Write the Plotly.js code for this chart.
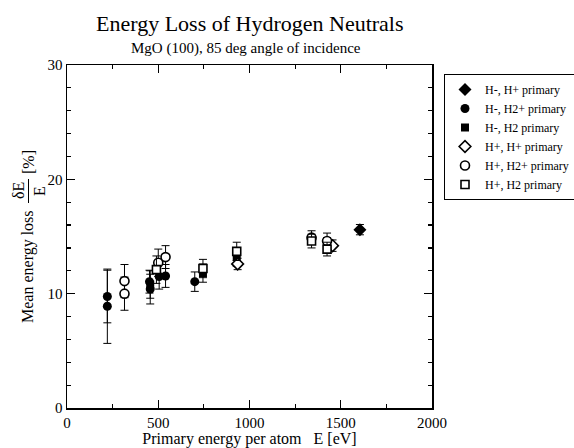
<!DOCTYPE html>
<html>
<head>
<meta charset="utf-8">
<script src="https://cdn.plot.ly/plotly-3.0.1.min.js"></script>
<style>html,body{margin:0;padding:0;background:#fff;}#chart{width:574px;height:448px;}</style>
</head>
<body>
<div id="chart"></div>
<script>
// Series names
const seriesNames = ["H-, H+ primary", "H-, H2+ primary", "H-, H2 primary", "H+, H+ primary", "H+, H2+ primary", "H+, H2 primary"];

// H-, H+ primary (filled diamond)
const hmHpEnergy = [1605];
const hmHpLoss = [15.6];
const hmHpErr = [0.45];

// H-, H2+ primary (filled circle)
const hmH2pEnergy = [221, 221, 452, 456, 505, 540, 700];
const hmH2pLoss = [9.75, 8.9, 11.05, 10.4, 11.5, 11.55, 11.05];
const hmH2pErr = [2.3, 3.25, 1.0, 1.3, 1.1, 1.0, 0.85];

// H-, H2 primary (filled square)
const hmH2Energy = [456, 745, 930, 1425];
const hmH2Loss = [10.8, 11.8, 13.2, 14.3];
const hmH2Err = [1.2, 0.8, 0.8, 0.6];

// H+, H+ primary (open diamond)
const hpHpEnergy = [935, 1455];
const hpHpLoss = [12.6, 14.2];
const hpHpErr = [0.5, 0.5];

// H+, H2+ primary (open circle)
const hpH2pEnergy = [315, 315, 500, 540, 1340, 1425];
const hpH2pLoss = [11.1, 10.0, 12.7, 13.2, 14.9, 14.6];
const hpH2pErr = [1.45, 1.45, 1.2, 1.0, 0.6, 0.7];

// H+, H2 primary (open square)
const hpH2Energy = [490, 745, 930, 1340, 1425];
const hpH2Loss = [12.1, 12.2, 13.7, 14.6, 13.9];
const hpH2Err = [1.2, 0.8, 0.8, 0.6, 0.6];

// Axis ticks
const xTicks = [0, 500, 1000, 1500, 2000];
const yTicks = [0, 10, 20, 30];

const FONT = "Liberation Serif, Times New Roman, serif";

function tr(name, x, y, e, symbol, filled, size) {
  return {
    type: "scatter", mode: "markers", name: name, x: x, y: y,
    error_y: {type: "data", array: e, visible: true, color: "#000", thickness: 1, width: 4},
    marker: {symbol: symbol, size: size, color: filled ? "#000" : "#fff",
             line: {color: "#000", width: filled ? 0 : 1.6}},
    hoverinfo: "x+y"
  };
}

const data = [
  tr(seriesNames[0], hmHpEnergy, hmHpLoss, hmHpErr, "diamond", true, 10),
  tr(seriesNames[1], hmH2pEnergy, hmH2pLoss, hmH2pErr, "circle", true, 9),
  tr(seriesNames[2], hmH2Energy, hmH2Loss, hmH2Err, "square", true, 8),
  tr(seriesNames[3], hpHpEnergy, hpHpLoss, hpHpErr, "diamond", false, 9),
  tr(seriesNames[4], hpH2pEnergy, hpH2pLoss, hpH2pErr, "circle", false, 9),
  tr(seriesNames[5], hpH2Energy, hpH2Loss, hpH2Err, "square", false, 8)
];

// plot area geometry helpers (pixel -> paper)
const L = 67, R = 142, T = 65, B = 40, W = 574, H = 448;
const pw = W - L - R, ph = H - T - B;
const px = v => (v - L) / pw;
const py = v => (H - B - v) / ph;

const layout = {
  width: W, height: H,
  margin: {l: L, r: R, t: T, b: B, pad: 0, autoexpand: false},
  paper_bgcolor: "#fff", plot_bgcolor: "#fff",
  font: {family: FONT, size: 15, color: "#000"},
  showlegend: true,
  legend: {
    x: px(444), y: py(74), xanchor: "left", yanchor: "top",
    bordercolor: "#000", borderwidth: 1, bgcolor: "#fff",
    font: {family: FONT, size: 12, color: "#000"},
    itemsizing: "trace", itemwidth: 30, tracegroupgap: 0
  },
  xaxis: {
    range: [0, 2000], tickvals: xTicks, ticktext: xTicks.map(String),
    ticks: "inside", ticklen: 8, tickwidth: 1.2, tickcolor: "#000",
    minor: {dtick: 250, tick0: 0, ticks: "inside", ticklen: 4, tickwidth: 1.2, tickcolor: "#000"},
    showline: true, linecolor: "#000", linewidth: 1.5, mirror: "ticks",
    showgrid: false, zeroline: false,
    tickfont: {family: FONT, size: 15},
    title: {text: "Primary energy per atom\u00a0\u00a0\u00a0E [eV]", font: {family: FONT, size: 16}, standoff: 5}
  },
  yaxis: {
    range: [0, 30], tickvals: yTicks, ticktext: yTicks.map(String),
    ticks: "inside", ticklen: 8, tickwidth: 1.2, tickcolor: "#000",
    minor: {dtick: 2, tick0: 0, ticks: "inside", ticklen: 4, tickwidth: 1.2, tickcolor: "#000"},
    showline: true, linecolor: "#000", linewidth: 1.5, mirror: "ticks",
    showgrid: false, zeroline: false,
    tickfont: {family: FONT, size: 15}
  },
  annotations: [
    {text: "Energy Loss of Hydrogen Neutrals", xref: "paper", yref: "paper", x: px(250), y: py(24),
     xanchor: "center", yanchor: "middle", showarrow: false, font: {family: FONT, size: 22}},
    {text: "MgO (100), 85 deg angle of incidence", xref: "paper", yref: "paper", x: px(246), y: py(48),
     xanchor: "center", yanchor: "middle", showarrow: false, font: {family: FONT, size: 15}},
    {text: "Mean energy loss", xref: "paper", yref: "paper", x: px(28), y: py(267),
     xanchor: "center", yanchor: "middle", textangle: -90, showarrow: false, font: {family: FONT, size: 16}},
    {text: "δE", xref: "paper", yref: "paper", x: px(18), y: py(191),
     xanchor: "center", yanchor: "middle", textangle: -90, showarrow: false, font: {family: FONT, size: 16}},
    {text: "E", xref: "paper", yref: "paper", x: px(39), y: py(191),
     xanchor: "center", yanchor: "middle", textangle: -90, showarrow: false, font: {family: FONT, size: 16}},
    {text: "[%]", xref: "paper", yref: "paper", x: px(28), y: py(162),
     xanchor: "center", yanchor: "middle", textangle: -90, showarrow: false, font: {family: FONT, size: 16}}
  ],
  shapes: [
    {type: "line", xref: "paper", yref: "paper", x0: px(28.5), x1: px(28.5), y0: py(179), y1: py(203),
     line: {color: "#000", width: 1}}
  ]
};

Plotly.newPlot("chart", data, layout, {staticPlot: true, displayModeBar: false});
</script>
</body>
</html>
